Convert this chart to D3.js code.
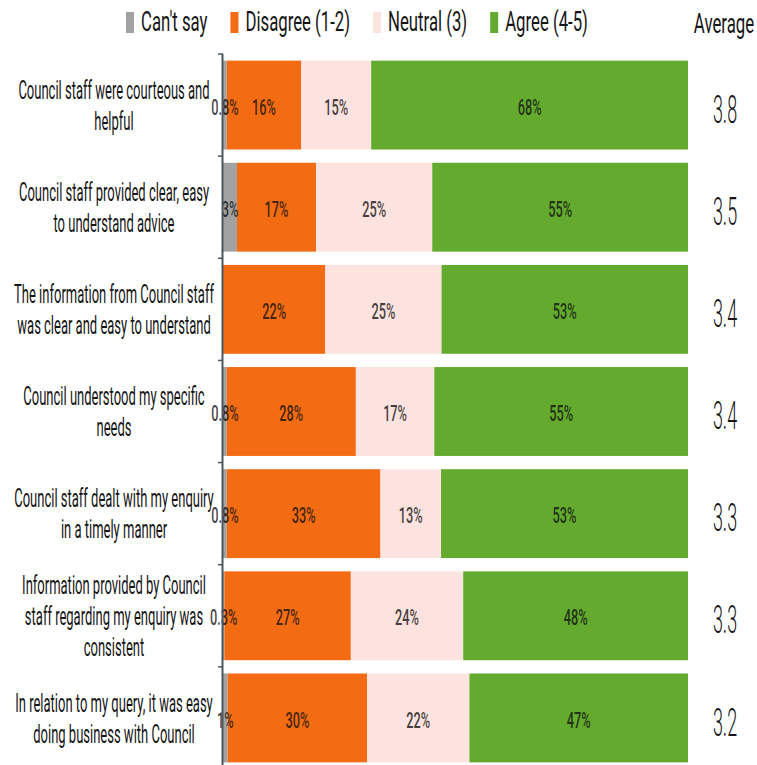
<!DOCTYPE html>
<html>
<head>
<meta charset="utf-8">
<script src="https://cdn.jsdelivr.net/npm/d3@7"></script>
<style>
  body { margin: 0; background: #fff; }
  text { font-family: Roboto, "Noto Sans", sans-serif; }
</style>
</head>
<body>
<svg id="chart" width="757" height="765"></svg>
<script>
// Survey statements (one entry per line of the wrapped label)
const categories = [
  ["Council staff were courteous and", "helpful"],
  ["Council staff provided clear, easy", "to understand advice"],
  ["The information from Council staff", "was clear and easy to understand"],
  ["Council understood my specific", "needs"],
  ["Council staff dealt with my enquiry", "in a timely manner"],
  ["Information provided by Council", "staff regarding my enquiry was", "consistent"],
  ["In relation to my query, it was easy", "doing business with Council"]
];

const seriesNames = ["Can't say", "Disagree (1-2)", "Neutral (3)", "Agree (4-5)"];
const seriesKeys  = ["cantSay", "disagree", "neutral", "agree"];

// Response shares, percent
const cantSay  = [0.8, 3, 0, 0.8, 0.8, 0.3, 1];
const disagree = [16, 17, 22, 28, 33, 27, 30];
const neutral  = [15, 25, 25, 17, 13, 24, 22];
const agree    = [68, 55, 53, 55, 53, 48, 47];

// Mean rating per statement
const averages = [3.8, 3.5, 3.4, 3.4, 3.3, 3.3, 3.2];

const colors = ["#a2a2a2", "#f36b12", "#fde3df", "#63aa2e"];

const rows = categories.map((c, i) => ({
  id: i,
  cantSay: cantSay[i],
  disagree: disagree[i],
  neutral: neutral[i],
  agree: agree[i]
}));

const svg = d3.select("#chart");

// 100% stacked bars: each row fills the full width
const x = d3.scaleLinear().domain([0, 1]).range([223, 688]);
const y = d3.scaleBand().domain(d3.range(categories.length)).range([54, 769])
  .paddingInner(0.13).paddingOuter(0.065);
const color = d3.scaleOrdinal().domain(seriesKeys).range(colors);

const stacked = d3.stack().keys(seriesKeys).offset(d3.stackOffsetExpand)(rows);

// Condensed text: horizontally squeezed glyphs anchored at (tx, ty)
function squeezed(parent, tx, ty, str, size, sx, opts = {}) {
  const g = parent.append("g").attr("transform", `translate(${tx},${ty}) scale(${sx},1)`);
  const t = g.append("text")
    .attr("text-anchor", opts.anchor || "middle")
    .attr("dy", opts.dy === undefined ? "0.35em" : opts.dy)
    .attr("font-size", size)
    .attr("font-weight", opts.weight || 400)
    .attr("fill", opts.fill || "#151515")
    .text(str);
  if (opts.opacity) t.attr("fill-opacity", opts.opacity);
  return { g, t, width: t.node().getComputedTextLength() * sx };
}

// Stacked bars
const layers = svg.append("g").selectAll("g")
  .data(stacked)
  .join("g")
  .attr("fill", d => color(d.key));

layers.selectAll("rect")
  .data(d => d)
  .join("rect")
  .attr("x", d => x(d[0]))
  .attr("y", (d, i) => y(i))
  .attr("width", d => x(d[1]) - x(d[0]))
  .attr("height", y.bandwidth());

// Value labels inside segments
const valueLayer = svg.append("g");
stacked.forEach(layer => {
  layer.forEach((d, i) => {
    const raw = rows[i][layer.key];
    if (!raw) return;
    squeezed(valueLayer, (x(d[0]) + x(d[1])) / 2, y(i) + y.bandwidth() / 2 + 2,
      raw + "%", 22, 0.58, { weight: 500, fill: "#111", opacity: 0.8 });
  });
});

// Category axis: line plus ticks between categories
const axis = svg.append("g");
axis.append("line")
  .attr("x1", 222.5).attr("x2", 222.5)
  .attr("y1", y.range()[0]).attr("y2", 765)
  .attr("stroke", "#4d5660").attr("stroke-width", 2);
d3.range(categories.length).forEach(i => {
  const yy = y(i) - y.step() * y.paddingInner() / 2;
  axis.append("line")
    .attr("x1", 218).attr("x2", 223)
    .attr("y1", yy).attr("y2", yy)
    .attr("stroke", "#4d5660").attr("stroke-width", 1.5);
});

// Category labels, wrapped lines centred on each bar
const labelLayer = svg.append("g");
categories.forEach((lines, i) => {
  const cy = y(i) + y.bandwidth() / 2;
  const lh = 31;
  lines.forEach((ln, k) => {
    squeezed(labelLayer, 114, cy + (k - (lines.length - 1) / 2) * lh, ln, 26, 0.5);
  });
});

// Average column
const avgLayer = svg.append("g");
squeezed(avgLayer, 724, 33, "Average", 28, 0.6, { dy: 0 });
averages.forEach((a, i) => {
  squeezed(avgLayer, 725, y(i) + y.bandwidth() / 2 + 4, d3.format(".1f")(a), 39, 0.46, { weight: 300 });
});

// Legend
const legend = svg.append("g");
let lx = 126;
seriesNames.forEach((name, i) => {
  legend.append("rect")
    .attr("x", lx).attr("y", 12)
    .attr("width", 8).attr("height", 21)
    .attr("fill", colors[i]);
  const item = squeezed(legend, lx + 15, 31, name, 27, 0.62, { anchor: "start", dy: 0 });
  lx += 15 + item.width + 23;
});
</script>
</body>
</html>
